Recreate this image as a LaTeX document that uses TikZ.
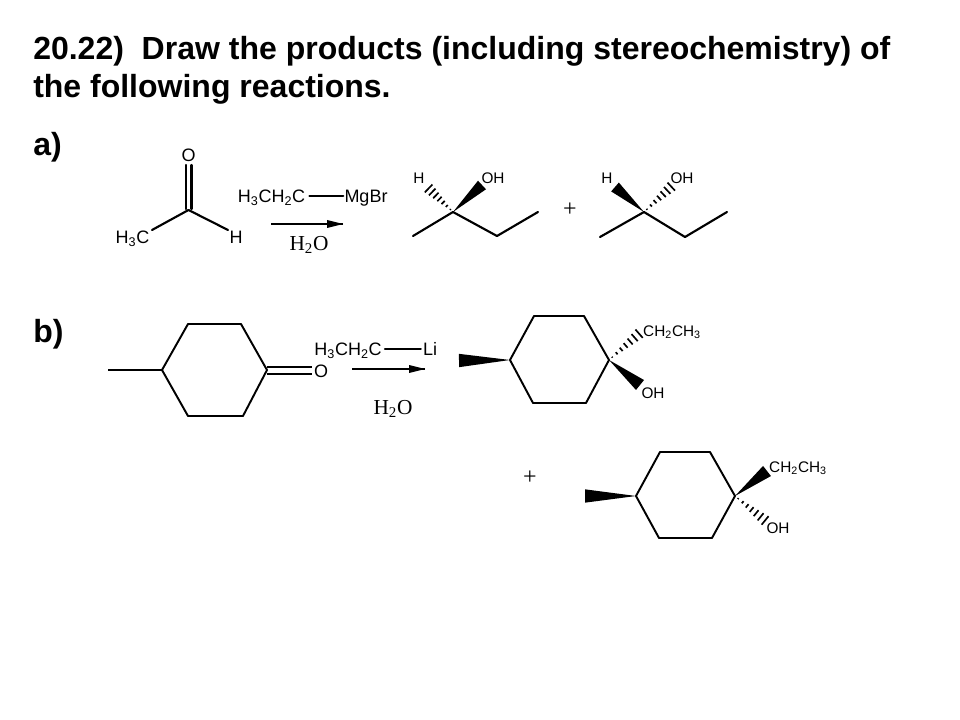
\documentclass[tikz,border=0pt]{standalone}
\usepackage{fontspec}
\setmainfont{Liberation Sans}
\newfontfamily\serifchem{Liberation Serif}
\usetikzlibrary{calc}
\tikzset{
  x=0.75pt,y=-0.75pt,
  title/.style={anchor=base west,inner sep=0pt,font=\fontsize{24}{28}\selectfont\bfseries},
  label/.style={anchor=base west,inner sep=0pt,font=\fontsize{24}{28}\selectfont\bfseries},
  atomA/.style={inner sep=0pt,font=\fontsize{13.5}{16}\selectfont},
  atomB/.style={inner sep=0pt,font=\fontsize{11.5}{14}\selectfont},
  subfix/.style={yshift=-1.5pt},
  serifT/.style={inner sep=0pt,font=\fontsize{16}{19}\selectfont\serifchem},
  plusT/.style={inner sep=0pt,font=\fontsize{18}{20}\selectfont\serifchem},
  bond/.style={line width=1.6pt,line cap=round,line join=round},
  ringbond/.style={line width=1.45pt,line join=round},
  rxnarrow/.style={line width=1pt},
}
\newcommand{\wedgebond}[3]{% narrow end, wide end, half width in pt
  \fill[black] (#1) -- ($(#2)!#3pt!90:(#1)$) -- ($(#2)!#3pt!-90:(#1)$) -- cycle;}
\newcommand{\hashbond}[3]{%
  \foreach \t in {0.1,0.24,...,1.0} {
    \coordinate (hp) at ($(#1)!\t!(#2)$);
    \pgfmathsetmacro{\hw}{#3*\t}
    \draw[line width=1.25pt] ($(hp)!\hw pt!90:(#2)$) -- ($(hp)!\hw pt!-90:(#2)$);
  }}
\newcommand{\arrowtip}[2]{% filled head of the reaction arrow at (#2), coming from (#1)
  \fill[black] (#2) -- ($(#2)!12pt!(#1)!3pt!90:(#1)$) -- ($(#2)!12pt!(#1)!3pt!-90:(#1)$) -- cycle;}
\begin{document}
\begin{tikzpicture}
\useasboundingbox (0,0) rectangle (960,720);
\fill[white] (0,0) rectangle (960,720);

\node[title] (t1) at (33,60) {20.22)\ \ Draw the products (including stereochemistry) of};
\node[title] (t2) at (33,98) {the following reactions.};
\node[label] (la) at (33,156) {a)};
\node[label] (lb) at (33,342) {b)};

% reaction a: reactant
\node[atomA] (aO) at (188.5,155) {O};
\coordinate (aC) at (188.5,210);
\node[atomA,subfix] (aMe) at (132.5,237) {H\textsubscript{3}C};
\node[atomA] (aH) at (236,237) {H};
\coordinate (aO1) at (186,165); \coordinate (aO2) at (191.5,165);
\coordinate (aC1) at (186,209); \coordinate (aC2) at (191.5,209);
\coordinate (aMeB) at (152,230); \coordinate (aHB) at (228,230);
\draw[bond] (aC1) -- (aO1) (aC2) -- (aO2);
\draw[bond] (aMeB) -- (aC) -- (aHB);

% reagent a
\node[atomA,subfix] (rA) at (271.5,196) {H\textsubscript{3}CH\textsubscript{2}C};
\node[atomA,subfix] (rB) at (366,196) {MgBr};
\coordinate (rAb) at ($(rA.east)+(4,-2)$); \coordinate (rBb) at (rAb -| rB.west);
\draw[bond] (rAb) -- ($(rBb)+(-1,0)$);
\coordinate (arA) at (271,224); \coordinate (arB) at (343,224);
\draw[rxnarrow] (arA) -- (arB); \arrowtip{arA}{arB}
\node[serifT,subfix] (w1) at (309,243) {H\textsubscript{2}O};

% product a1
\coordinate (p1) at (453,212); \coordinate (p1l) at (413,236);
\coordinate (p1m) at (497,236); \coordinate (p1r) at (538,212);
\draw[bond] (p1l) -- (p1) -- (p1m) -- (p1r);
\node[atomB] (p1H) at (419,178) {H};
\node[atomB] (p1OH) at (493,178) {OH};
\coordinate (p1a) at (427,187); \coordinate (p1b) at (482,185);
\hashbond{p1}{p1a}{4.4}
\wedgebond{p1}{p1b}{4.4}
\node[plusT] (plusA) at (570,210) {+};

% product a2
\coordinate (p2) at (644,212); \coordinate (p2l) at (600,237);
\coordinate (p2m) at (685,237); \coordinate (p2r) at (727,212);
\draw[bond] (p2l) -- (p2) -- (p2m) -- (p2r);
\node[atomB] (p2H) at (607,178) {H};
\node[atomB] (p2OH) at (682,178) {OH};
\coordinate (p2a) at (615,187); \coordinate (p2b) at (673,185);
\wedgebond{p2}{p2a}{4.4}
\hashbond{p2}{p2b}{4.4}

% reaction b: reactant
\coordinate (b1) at (162,370); \coordinate (b2) at (188,324); \coordinate (b3) at (241,324);
\coordinate (b4) at (267,370); \coordinate (b5) at (243,416); \coordinate (b6) at (188,416);
\coordinate (bMe) at (108,370);
\draw[ringbond] (b1) -- (b2) -- (b3) -- (b4) -- (b5) -- (b6) -- cycle;
\draw[ringbond] (bMe) -- (b1);
\node[atomA] (bO) at (321,371) {O};
\coordinate (bd1) at (267,367); \coordinate (bd2) at (312,367);
\coordinate (bd3) at (267,374); \coordinate (bd4) at (312,374);
\draw[ringbond] (bd1) -- (bd2) (bd3) -- (bd4);

% reagent b
\node[atomA,subfix] (rC) at (348,349) {H\textsubscript{3}CH\textsubscript{2}C};
\node[atomA] (rD) at (430,349) {Li};
\draw[bond] ($(rC.east)+(3,-2)$) -- ($(rC.east -| rD.west)+(-2,-2)$);
\coordinate (brA) at (352,369); \coordinate (brB) at (425,369);
\draw[rxnarrow] (brA) -- (brB); \arrowtip{brA}{brB}
\node[serifT,subfix] (w2) at (393,407) {H\textsubscript{2}O};

% product b1
\coordinate (c1) at (510,360); \coordinate (c2) at (534,316); \coordinate (c3) at (584,316);
\coordinate (c4) at (609,360); \coordinate (c5) at (586,403); \coordinate (c6) at (533,403);
\draw[ringbond] (c1) -- (c2) -- (c3) -- (c4) -- (c5) -- (c6) -- cycle;
\coordinate (cW) at (459,360.5);
\wedgebond{c1}{cW}{5}
\coordinate (cH) at (641,332); \coordinate (cO) at (640,385);
\hashbond{c4}{cH}{4.4}
\wedgebond{c4}{cO}{4.8}
\node[atomB,subfix] (cEt) at (672,330) {CH\textsubscript{2}CH\textsubscript{3}};
\node[atomB] (cOH) at (653,393) {OH};

% plus b
\node[plusT] (plusB) at (530,478) {+};

% product b2
\coordinate (d1) at (636,496); \coordinate (d2) at (660,452); \coordinate (d3) at (710,452);
\coordinate (d4) at (735,496); \coordinate (d5) at (712,538); \coordinate (d6) at (659,538);
\draw[ringbond] (d1) -- (d2) -- (d3) -- (d4) -- (d5) -- (d6) -- cycle;
\coordinate (dW) at (585,496);
\wedgebond{d1}{dW}{5}
\coordinate (dE) at (767,471); \coordinate (dO) at (767,522);
\wedgebond{d4}{dE}{4.8}
\hashbond{d4}{dO}{4.4}
\node[atomB,subfix] (dEt) at (798,466) {CH\textsubscript{2}CH\textsubscript{3}};
\node[atomB] (dOH) at (778,528) {OH};
\end{tikzpicture}
\end{document}
